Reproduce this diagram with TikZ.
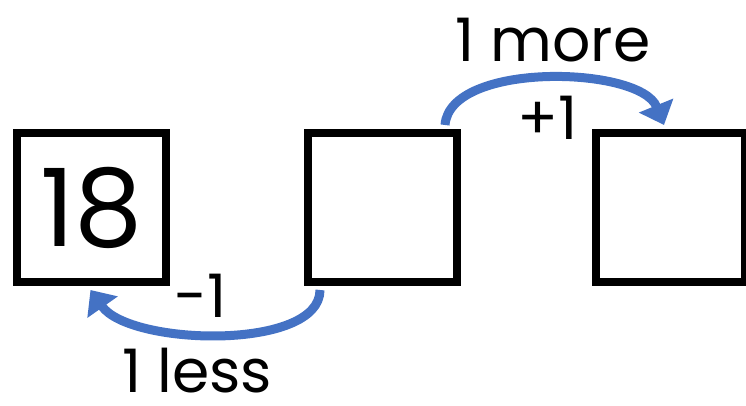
\documentclass[tikz,border=0pt]{standalone}
\usepackage{fontspec}
\setmainfont{Poppins}
\usetikzlibrary{arrows.meta,calc}
\definecolor{arrowblue}{HTML}{4472C4}
\tikzset{
  numbox/.style={draw=black, line width=8pt, minimum size=149pt, inner sep=0pt},
  curvearrow/.style={draw=arrowblue, line width=9pt, line cap=butt,
    -{Triangle[width=36pt,length=21pt]}},
  lbl/.style={inner sep=0pt, font=\fontsize{60}{60}\selectfont}
}
\begin{document}
\begin{tikzpicture}[x=1pt,y=1pt]
\useasboundingbox (0,0) rectangle (746,406);
\node[numbox, font=\fontsize{108}{108}\selectfont] (b1) at (91.5,198.5) {18};
\node[numbox] (b2) at (382,198.5) {};
\node[numbox] (b3) at (670,198.5) {};
\coordinate (s1) at ($(b2.north east)+(-15.5,4)$);
\coordinate (e1) at ($(b3.north west)+(72.5,4)$);
\coordinate (s2) at ($(b2.south west)+(16.5,-4)$);
\coordinate (e2) at ($(b1.south west)+(77.5,-4)$);
\draw[curvearrow] (s1) .. controls (450,345) and (640,340) .. (e1);
\draw[curvearrow] (s2) .. controls (320,55) and (130,60) .. (e2);
\node[lbl] (more) at (553,366) {1 more};
\node[lbl] (plus) at (548,288) {+1};
\node[lbl] (minus) at (201,110) {-1};
\node[lbl] (less) at (197,35) {1 less};
\end{tikzpicture}
\end{document}
